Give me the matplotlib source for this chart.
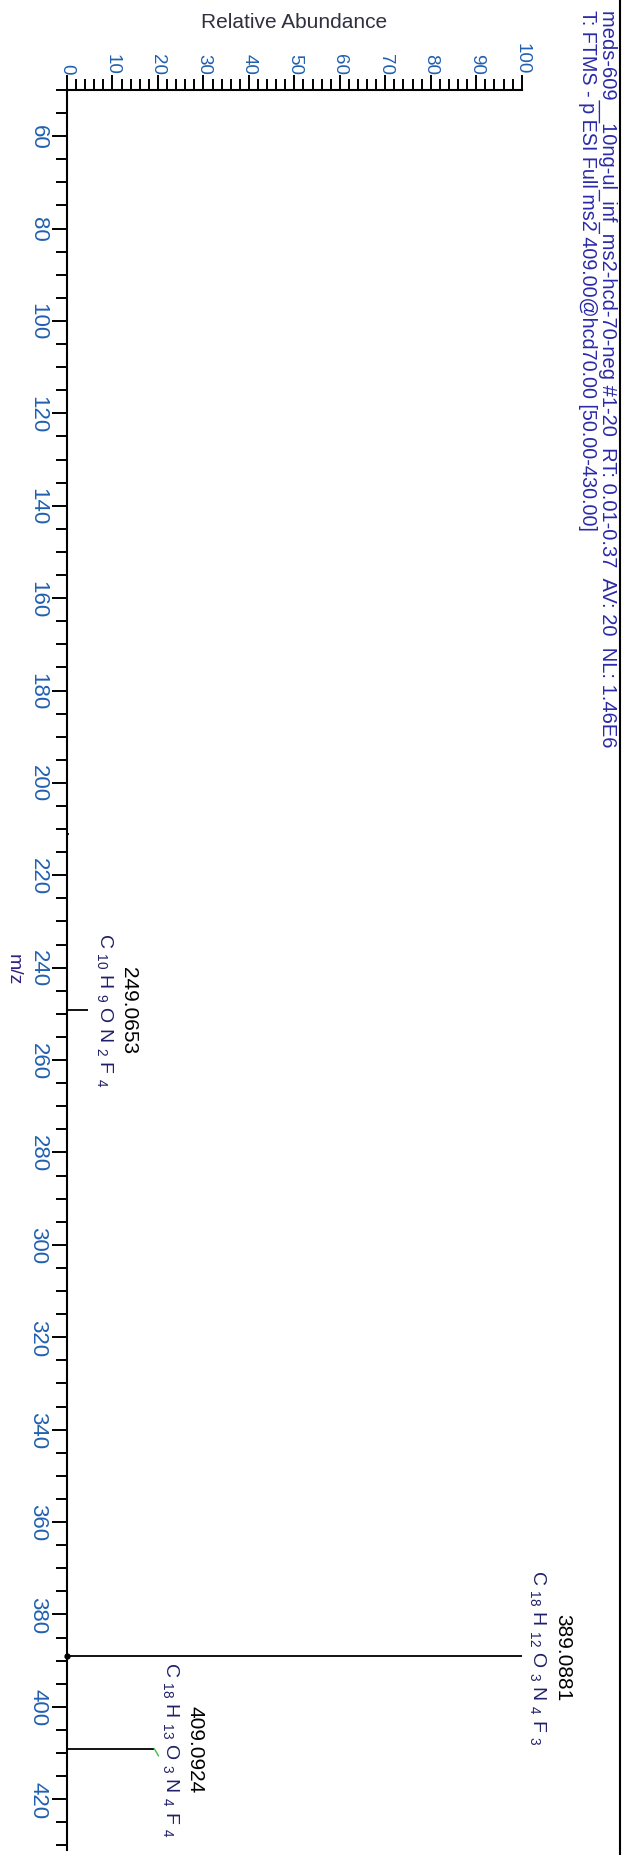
import matplotlib
matplotlib.use("Agg")
import matplotlib.pyplot as plt
from matplotlib.ticker import MultipleLocator
from matplotlib.lines import Line2D

plt.rcParams['font.family'] = ['Liberation Sans', 'DejaVu Sans']
plt.rcParams['mathtext.default'] = 'regular'

# peaks (m/z, relative abundance)
mz = [211.0, 249.0653, 389.0881, 409.0924]
abund = [0.4, 4.6, 100.0, 19.2]
mass_labels = ["", "249.0653", "389.0881", "409.0924"]
formulas = ["",
            r"C ${}_{10}$ H ${}_{9}$ O N ${}_{2}$ F ${}_{4}$",
            r"C ${}_{18}$ H ${}_{12}$ O ${}_{3}$ N ${}_{4}$ F ${}_{3}$",
            r"C ${}_{18}$ H ${}_{13}$ O ${}_{3}$ N ${}_{4}$ F ${}_{4}$"]
abund_ticks = list(range(0, 101, 10))
mz_ticks = list(range(60, 421, 20))
header1 = "meds-609__10ng-ul_inf_ms2-hcd-70-neg #1-20  RT: 0.01-0.37  AV: 20  NL: 1.46E6"
header2 = "T: FTMS - p ESI Full ms2 409.00@hcd70.00 [50.00-430.00]"

W, H = 628, 1856
fig = plt.figure(figsize=(W / 100, H / 100), dpi=100)
ax = fig.add_axes([67 / W, (H - 1851) / H, (521.7 - 67) / W, (1851 - 91) / H])

tick_col = '#2060b0'

# spectrum drawn sideways: abundance along x, m/z downward
ax.hlines(mz, 0, abund, color='black', lw=1.3)
ax.plot([0], [389.0881], 'o', color='black', ms=3.5, clip_on=False)
ax.plot([19.2, 19.7, 20.1], [409.09, 409.9, 410.6], color='#40c040', lw=1.0)

for m, a, ml, fl in zip(mz, abund, mass_labels, formulas):
    if not ml:
        continue
    ax.annotate(fl, (a, m), xytext=(12, 0), textcoords='offset points',
                rotation=-90, ha='center', va='center', fontsize=14,
                color='#20206a')
    ax.annotate(ml, (a, m), xytext=(29.5, 0), textcoords='offset points',
                rotation=-90, ha='center', va='center', fontsize=15,
                color='black')

ax.set_xlim(0, 100)
ax.set_ylim(431, 50)

for s in ['right', 'bottom']:
    ax.spines[s].set_visible(False)
for s in ['left', 'top']:
    ax.spines[s].set_linewidth(1.5)

ax.xaxis.set_ticks_position('top')
ax.set_xticks(abund_ticks)
ax.set_xticklabels([str(t) for t in abund_ticks])
ax.xaxis.set_minor_locator(MultipleLocator(2))
ax.set_yticks(mz_ticks)
ax.set_yticklabels([str(t) for t in mz_ticks])
ax.yaxis.set_minor_locator(MultipleLocator(5))

ax.tick_params(which='major', length=10.8, width=1.4, direction='out',
               labelcolor=tick_col)
ax.tick_params(which='minor', length=7.9, width=1.4, direction='out')
ax.tick_params(axis='x', pad=1, labelrotation=-90, labelsize=13.5)
ax.tick_params(axis='y', pad=2.5, labelrotation=-90, labelsize=16)
for lbl in ax.get_yticklabels():
    lbl.set_va('center')

fig.text(294 / W, 1 - 22 / H, "Relative Abundance", ha='center', va='center',
         fontsize=15, color='#303040')
fig.text(13 / W, 1 - 970 / H, "m/z", rotation=-90, ha='center', va='center',
         fontsize=14, color='#302080')

fig.text(608 / W, 1 - 10 / H, header1, rotation=-90, ha='center', va='top',
         fontsize=14.5, color='#2a2aa8')
fig.text(587 / W, 1 - 10 / H, header2, rotation=-90, ha='center', va='top',
         fontsize=14.2, color='#2a2aa8')
fig.add_artist(Line2D([620 / W, 620 / W], [0, 1], transform=fig.transFigure,
                      color='black', lw=1.5))

fig.savefig("out.png", dpi=100)
